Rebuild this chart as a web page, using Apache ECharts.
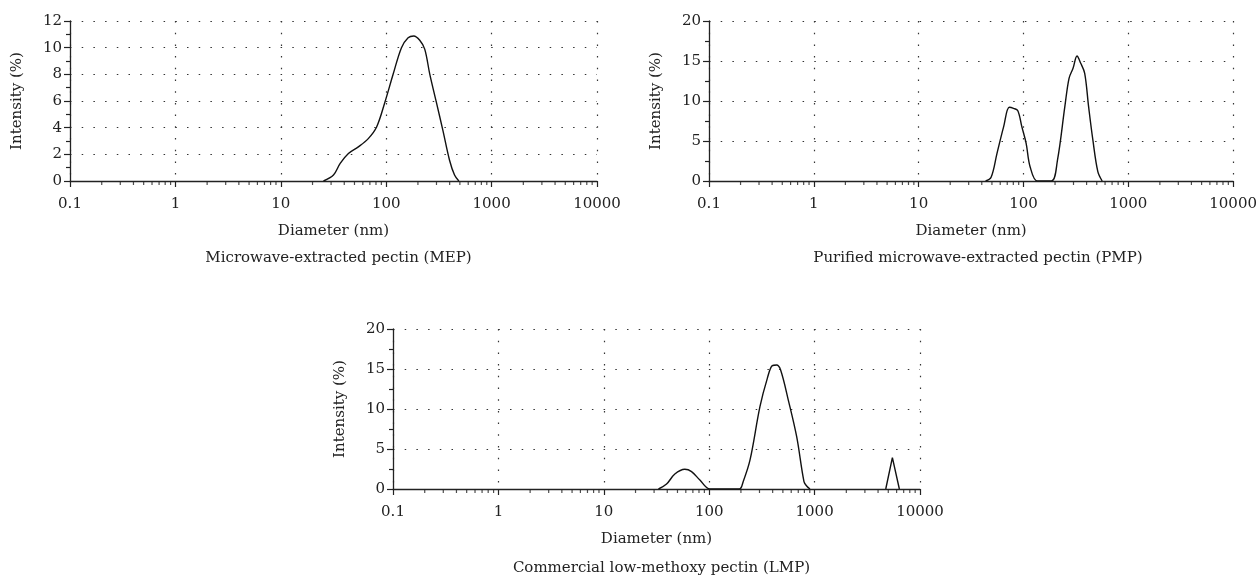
<!DOCTYPE html>
<html>
<head>
<meta charset="utf-8">
<script src="https://cdn.jsdelivr.net/npm/echarts@6/dist/echarts.min.js"></script>
<style>
html,body{margin:0;padding:0;background:#fff;}
#chart{width:1260px;height:577px;}
</style>
</head>
<body>
<div id="chart"></div>
<script>
// ---- Data ----
var mepDiameter = [25.4, 31.6, 36.6, 43.8, 54.4, 67.6, 81.1, 97.2, 116.5, 139.6, 161.4, 182.7, 208, 232, 259, 299, 345, 399, 445, 489];
var mepIntensity = [0, 0.45, 1.32, 2.06, 2.56, 3.18, 4.05, 5.91, 8.02, 10.0, 10.75, 10.88, 10.56, 9.89, 8.02, 5.91, 3.80, 1.56, 0.45, 0];

var pmpDiameter = [43.5, 49.1, 55.9, 64.7, 73.2, 80.4, 88.3, 96.4, 106, 115.6, 135.6,
                   185, 211, 248, 272, 297, 324, 351.6, 383.7, 418, 459, 512, 563];
var pmpIntensity = [0, 0.46, 3.46, 6.79, 9.21, 9.08, 8.79, 6.79, 4.71, 1.79, 0,
                    0, 2.62, 9.29, 12.84, 14.09, 15.63, 14.71, 13.46, 9.29, 5.13, 1.17, 0];

var lmpDiameter = [33, 39.4, 47.2, 58.7, 68.0, 81.6, 101.6,
                   193, 210, 244, 303, 356, 397, 436, 476, 563, 676, 793, 841, 904];
var lmpIntensity = [0, 0.62, 1.87, 2.46, 2.17, 1.12, 0,
                    0, 0.92, 3.63, 10.29, 13.83, 15.42, 15.5, 14.87, 11.12, 6.54, 0.92, 0.37, 0];
// narrow third LMP population (drawn with straight segments)
var lmpSpikeDiameter = [4732, 5470, 6370];
var lmpSpikeIntensity = [0, 3.92, 0];

var xTickValues = [0.1, 1, 10, 100, 1000, 10000];
var xTickLabels = ['0.1', '1', '10', '100', '1000', '10000'];
var minorMultipliers = [2, 3, 4, 5, 6, 7, 8, 9];

var captions = ['Microwave-extracted pectin (MEP)', 'Purified microwave-extracted pectin (PMP)', 'Commercial low-methoxy pectin (LMP)'];
var xName = 'Diameter (nm)';
var yName = 'Intensity (%)';

// ---- Build ----
function pairs(xs, ys) { return xs.map(function (x, i) { return [x, ys[i]]; }); }
var minorTickPts = [];
for (var d = 0; d < xTickValues.length - 1; d++) {
  minorMultipliers.forEach(function (m) { minorTickPts.push([+(xTickValues[d] * m).toPrecision(4), 0]); });
}

var FONT = 'DejaVu Serif';
var INK = '#222';
var dotted = { color: '#333', width: 1.2, type: [1.5, 10.2] };

var grids = [
  { left: 70, top: 21, width: 527, height: 160 },
  { left: 709, top: 21, width: 528, height: 160 },
  { left: 393, top: 329, width: 527, height: 160 }
];
var yMax = [12, 20, 20];
var yInt = [2, 5, 5];
var series = [pairs(mepDiameter, mepIntensity), pairs(pmpDiameter, pmpIntensity), pairs(lmpDiameter, lmpIntensity)];

var xAxes = [], yAxes = [], seriesList = [], titles = [];
grids.forEach(function (g, i) {
  xAxes.push({
    gridIndex: i, type: 'log', logBase: 10, min: 0.1, max: 10000, splitNumber: 5,
    name: xName, nameLocation: 'middle', nameGap: 43,
    nameTextStyle: { fontFamily: FONT, fontSize: 15, color: INK },
    axisLine: { show: true, onZero: false, lineStyle: { color: INK, width: 1.3 } },
    axisTick: { show: true, inside: false, length: 6, lineStyle: { color: INK, width: 1.2 } },
    axisLabel: {
      margin: 16, fontFamily: FONT, fontSize: 15, color: INK,
      formatter: function (v) {
        var k = xTickValues.findIndex(function (t) { return Math.abs(Math.log10(t) - Math.log10(v)) < 1e-6; });
        return k >= 0 ? xTickLabels[k] : '';
      }
    },
    splitLine: { show: true, lineStyle: dotted }
  });
  yAxes.push({
    gridIndex: i, type: 'value', min: 0, max: yMax[i], interval: yInt[i],
    name: yName, nameLocation: 'middle', nameGap: 45,
    nameTextStyle: { fontFamily: FONT, fontSize: 15, color: INK },
    axisLine: { show: true, lineStyle: { color: INK, width: 1.3 } },
    axisTick: { show: true, inside: false, length: 6, lineStyle: { color: INK, width: 1.2 } },
    minorTick: { show: true, splitNumber: 2, length: 4, lineStyle: { color: INK, width: 1.2 } },
    axisLabel: { margin: 8, fontFamily: FONT, fontSize: 15, color: INK },
    splitLine: { show: true, lineStyle: dotted }
  });
  seriesList.push({
    type: 'line', xAxisIndex: i, yAxisIndex: i, data: series[i],
    showSymbol: false, smooth: 0.35, silent: true, animation: false,
    lineStyle: { color: '#111', width: 1.4 }, z: 5
  });
  seriesList.push({
    type: 'scatter', xAxisIndex: i, yAxisIndex: i, data: minorTickPts,
    symbol: 'rect', symbolSize: [1.2, 4], symbolOffset: [0, 2], silent: true, animation: false,
    itemStyle: { color: INK }, clip: false, z: 4
  });
  titles.push({
    text: captions[i], left: g.left + g.width / 2, top: (i < 2 ? 246 : 556), textAlign: 'center',
    textStyle: { fontFamily: FONT, fontSize: 15, fontWeight: 'normal', color: INK }
  });
});
seriesList.push({
  type: 'line', xAxisIndex: 2, yAxisIndex: 2, data: pairs(lmpSpikeDiameter, lmpSpikeIntensity),
  showSymbol: false, smooth: false, silent: true, animation: false,
  lineStyle: { color: '#111', width: 1.4 }, z: 5
});

var chart = echarts.init(document.getElementById('chart'), null, { renderer: 'canvas' });
chart.setOption({
  animation: false,
  backgroundColor: '#fff',
  title: titles,
  grid: grids,
  xAxis: xAxes,
  yAxis: yAxes,
  series: seriesList
});
</script>
</body>
</html>
